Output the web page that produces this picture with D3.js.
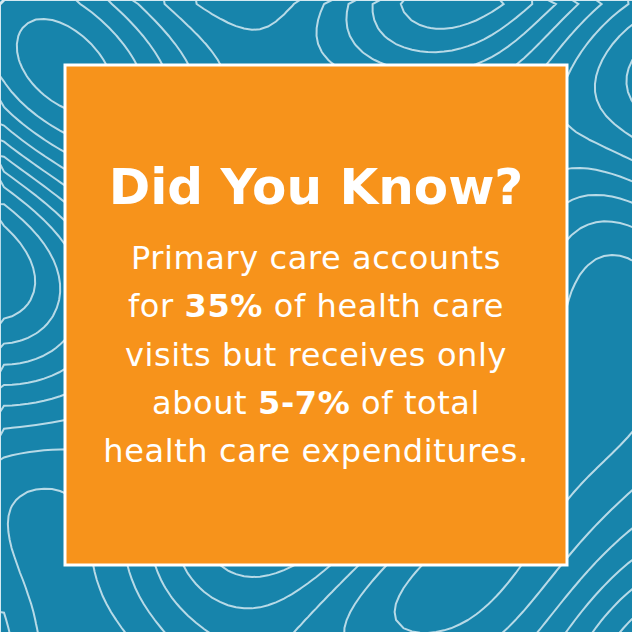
<!DOCTYPE html>
<html><head><meta charset="utf-8">
<script src="https://cdn.jsdelivr.net/npm/d3@7"></script>
<style>body{margin:0}svg{display:block}</style>
</head><body><div id="viz"></div>
<script>
var width = 632, height = 632;
var title = "Did You Know?";
// each line split into [text, bold]
var bodyLines = [
  [["Primary care accounts", false]],
  [["for ", false], ["35%", true], [" of health care", false]],
  [["visits but receives only", false]],
  [["about ", false], ["5-7%", true], [" of total", false]],
  [["health care expenditures.", false]]
];

var svg = d3.select("#viz").append("svg")
  .attr("width", width).attr("height", height);

svg.append("rect").attr("width", width).attr("height", height).attr("fill", "#1784ab");

// decorative topographic lines
var n = 80, grid = [];
for (var j = 0; j < n; j++) for (var i = 0; i < n; i++) {
  var u = i / n * 7, v = j / n * 7;
  grid.push(Math.sin(u * 1.3 + Math.cos(v * 0.9)) + Math.cos(v * 1.1 - Math.sin(u * 0.7) * 1.5) + 0.5 * Math.sin(u * 0.5 + v * 1.7));
}
var contours = d3.contours().size([n, n]).thresholds(d3.range(-2.3, 2.4, 0.45))(grid);
svg.append("g").selectAll("path").data(contours).join("path")
  .attr("d", d3.geoPath(d3.geoIdentity().scale(width / (n - 1))))
  .attr("fill", "none").attr("stroke", "#d4e9f1").attr("stroke-width", 2).attr("opacity", 0.85);

svg.append("rect").attr("x", 65).attr("y", 65).attr("width", 502).attr("height", 500)
  .attr("fill", "#f7931b").attr("stroke", "#fff").attr("stroke-width", 3);

svg.append("text").attr("x", 316).attr("y", 204).attr("text-anchor", "middle")
  .attr("font-family", "'DejaVu Sans', sans-serif").attr("font-weight", 700).attr("font-size", 50)
  .attr("fill", "#fff").text(title);

var y = d3.scalePoint().domain(d3.range(bodyLines.length)).range([269, 462]);
svg.append("g").selectAll("text").data(bodyLines).join("text")
  .attr("x", 316).attr("y", (d, i) => y(i)).attr("text-anchor", "middle")
  .attr("font-family", "'DejaVu Sans', sans-serif").attr("font-size", 32)
  .attr("letter-spacing", 0.6).attr("fill", "#fff")
  .selectAll("tspan").data(d => d).join("tspan")
  .attr("font-weight", d => d[1] ? 700 : 400).text(d => d[0]);
</script>
</body></html>
